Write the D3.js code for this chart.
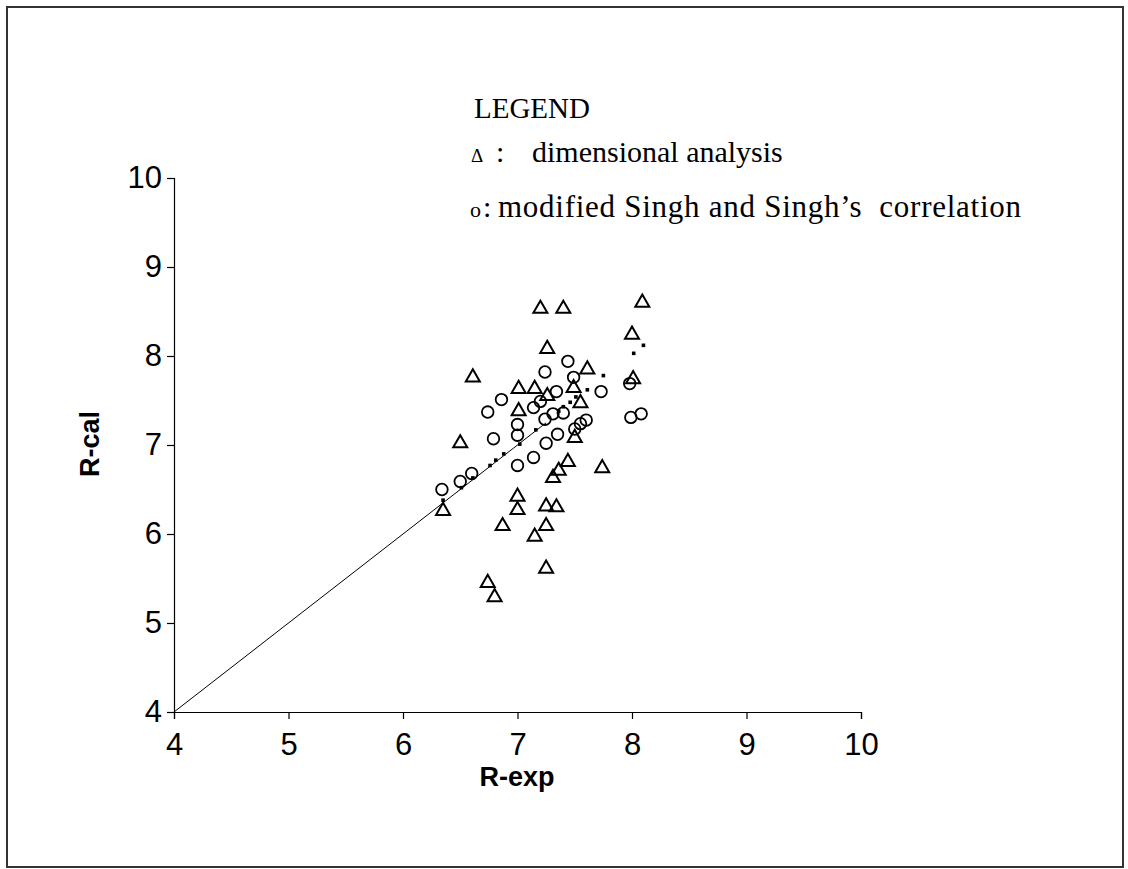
<!DOCTYPE html>
<html><head><meta charset="utf-8">
<script src="https://cdn.jsdelivr.net/npm/d3@7"></script>
<style>body{margin:0;background:#fff}</style>
</head><body>
<svg id="c" width="1128" height="869"></svg>
<script>
const xTicks = [4,5,6,7,8,9,10];
const yTicks = [4,5,6,7,8,9,10];
// dimensional analysis (triangles): [R-exp, R-cal]
const dimAnalysis = [
 [7.20,8.53],[7.40,8.53],[8.09,8.60],[8.00,8.24],[7.26,8.08],[7.61,7.85],[6.61,7.76],
 [7.01,7.63],[7.15,7.63],[7.26,7.55],[7.49,7.64],[7.55,7.47],[7.01,7.38],[8.01,7.74],
 [6.50,7.02],[7.50,7.08],[7.44,6.81],[7.36,6.71],[7.31,6.63],[7.74,6.74],[6.35,6.26],
 [7.00,6.42],[7.00,6.27],[6.87,6.09],[7.25,6.31],[7.34,6.30],[7.25,6.09],[7.15,5.97],
 [7.25,5.61],[6.74,5.45],[6.80,5.29]
];
// modified Singh and Singh's correlation (circles)
const singh = [
 [7.24,7.82],[7.34,7.60],[6.86,7.51],[6.74,7.37],[7.20,7.49],[7.14,7.42],[7.00,7.23],
 [7.00,7.11],[7.24,7.29],[7.31,7.35],[6.79,7.07],[7.44,7.94],[7.49,7.76],[7.73,7.60],
 [7.40,7.36],[7.60,7.28],[7.55,7.24],[7.50,7.18],[7.35,7.12],[7.98,7.69],[7.99,7.31],
 [8.08,7.35],[7.25,7.02],[7.14,6.86],[7.00,6.77],[6.34,6.50],[6.50,6.59],[6.60,6.68]
];
// experimental values (small squares on the 1:1 line)
const expPoints = [
 [6.35,6.38],[6.51,6.52],[6.61,6.63],[6.76,6.77],[6.81,6.83],[6.88,6.90],[7.02,7.01],
 [7.16,7.17],[7.36,7.38],[7.40,7.43],[7.46,7.48],[7.51,7.54],[7.61,7.62],[7.75,7.78],
 [8.015,8.03],[8.10,8.12]
];
const diagLine = [[4,4],[7.25,7.25]];

const svg = d3.select("#c");
svg.append("rect").attr("x",7).attr("y",7).attr("width",1116).attr("height",860)
  .attr("fill","#fff").attr("stroke","#333").attr("stroke-width",2);

const x = d3.scaleLinear().domain([4,10]).range([174,861]);
const y = d3.scaleLinear().domain([4,10]).range([712,178]);

const ax = svg.append("g").attr("transform","translate(0,712)")
  .call(d3.axisBottom(x).tickValues(xTicks).tickSize(7).tickPadding(14).tickFormat(d3.format("d")));
const ay = svg.append("g").attr("transform","translate(174,0)")
  .call(d3.axisLeft(y).tickValues(yTicks).tickSize(7).tickPadding(5).tickFormat(d3.format("d")));
[ax,ay].forEach(g=>{
  g.select(".domain").attr("stroke","#000").attr("stroke-width",1.2);
  g.selectAll(".tick line").attr("stroke","#000").attr("stroke-width",1.2);
  g.selectAll(".tick text").attr("font-family","Liberation Sans, Arial, sans-serif")
   .attr("font-size",31).attr("fill","#000");
});
ax.selectAll(".tick text").attr("dy","0.71em");

svg.append("text").attr("x",517).attr("y",786).attr("text-anchor","middle")
  .attr("font-family","Liberation Sans, Arial, sans-serif").attr("font-weight","bold")
  .attr("font-size",27).text("R-exp");
svg.append("text").attr("transform","translate(99,444) rotate(-90)").attr("text-anchor","middle")
  .attr("font-family","Liberation Sans, Arial, sans-serif").attr("font-weight","bold")
  .attr("font-size",27).text("R-cal");

// 1:1 line
svg.append("path").datum(diagLine)
  .attr("d", d3.line().x(d=>x(d[0])).y(d=>y(d[1])))
  .attr("stroke","#000").attr("stroke-width",1).attr("fill","none");

// squares
svg.append("g").selectAll("rect").data(expPoints).join("rect")
  .attr("x",d=>x(d[0])-1.8).attr("y",d=>y(d[1])-1.8).attr("width",3.6).attr("height",3.6)
  .attr("fill","#000");

// circles
svg.append("g").selectAll("circle").data(singh).join("circle")
  .attr("cx",d=>x(d[0])).attr("cy",d=>y(d[1])).attr("r",5.8)
  .attr("fill","none").attr("stroke","#000").attr("stroke-width",1.8);

// triangles
const tri = d3.symbol().type(d3.symbolTriangle).size(85);
svg.append("g").selectAll("path").data(dimAnalysis).join("path")
  .attr("transform",d=>`translate(${x(d[0])},${y(d[1])})`)
  .attr("d",tri).attr("fill","none").attr("stroke","#000").attr("stroke-width",2)
  .attr("stroke-linejoin","miter");

// legend
const lf = "Liberation Serif, Times New Roman, serif";
svg.append("text").attr("x",474).attr("y",118).attr("font-family",lf).attr("font-size",29).text("LEGEND");
svg.append("text").attr("x",471).attr("y",162).attr("font-family",lf).attr("font-size",19).text("\u0394");
svg.append("text").attr("x",496).attr("y",162).attr("font-family",lf).attr("font-size",30).text(":");
svg.append("text").attr("x",532).attr("y",162).attr("font-family",lf).attr("font-size",30).text("dimensional analysis");
svg.append("text").attr("x",470).attr("y",217).attr("font-family",lf).attr("font-size",22).text("o");
svg.append("text").attr("x",483).attr("y",217).attr("font-family",lf).attr("font-size",30).text(":");
svg.append("text").attr("x",498).attr("y",217).attr("font-family",lf).attr("font-size",31)
  .attr("textLength",523).attr("lengthAdjust","spacing")
  .text("modified Singh and Singh\u2019s\u00a0 correlation");
</script>
</body></html>
